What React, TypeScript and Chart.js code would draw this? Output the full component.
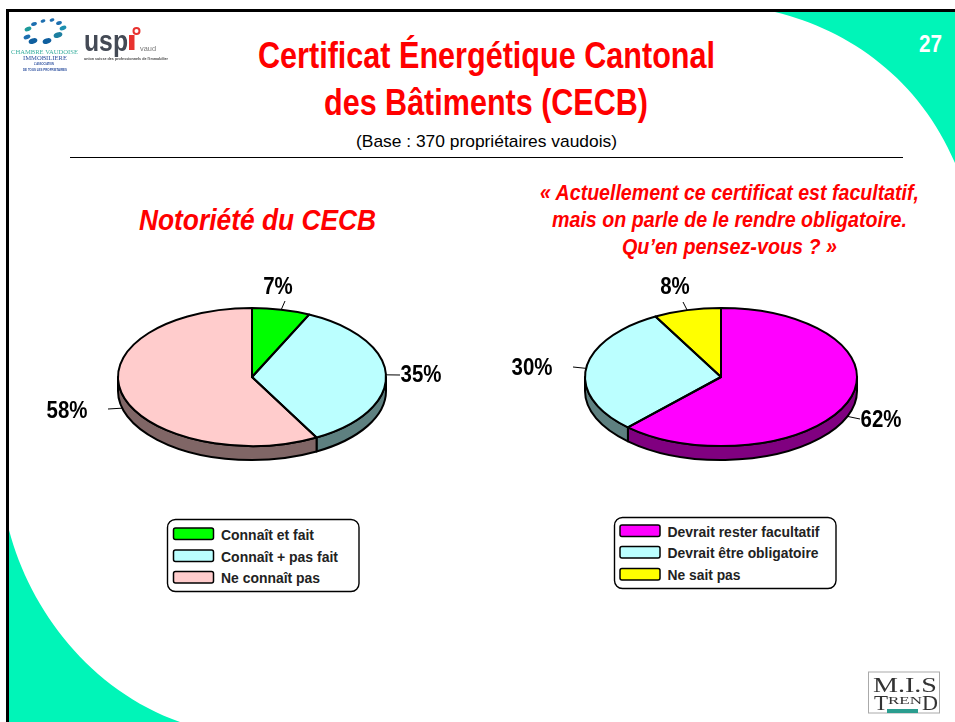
import React, { useEffect, useRef } from "react";
import { Chart, registerables } from "chart.js";

Chart.register(...registerables);

const leftCategories = ["Connaît et fait", "Connaît + pas fait", "Ne connaît pas"];
const leftValues = [7, 35, 58];
const leftColors = ["#00FF00", "#BBFFFF", "#FFCCCC"];
const leftWalls = ["#008000", "#5E8080", "#806666"];

const rightCategories = ["Devrait rester facultatif", "Devrait être obligatoire", "Ne sait pas"];
const rightValues = [62, 30, 8];
const rightColors = ["#FF00FF", "#BBFFFF", "#FFFF00"];
const rightWalls = ["#800080", "#5E8080", "#808000"];

const FONT = '"Liberation Sans", Arial, sans-serif';
const RED = "#FF0000";
const TEAL = "#00F5B8";
const DEPTH = 14;
const SQUASH_HEIGHT = 69;

// label centre and leader tip, relative to the pie's centre
const leftCallouts = [
  { lx: 26, ly: -90, tx: 33, ty: -76 },
  { lx: 169, ly: -2, tx: 148, ty: -2 },
  { lx: -185, ly: 34, tx: -144, ty: 32 },
];
const rightCallouts = [
  { lx: 160, ly: 43, tx: 139, ty: 42 },
  { lx: -189, ly: -9, tx: -148, ty: -10 },
  { lx: -46, ly: -90, tx: -38, ty: -75 },
];

type Callout = { lx: number; ly: number; tx: number; ty: number };

function piePlugin(walls: string[], callouts: Callout[]) {
  return {
    id: "flatPie",
    beforeDatasetsDraw(chart: any) {
      const ctx = chart.ctx;
      const arcs = chart.getDatasetMeta(0).data;
      const { x: cx, y: cy, outerRadius: R } = arcs[0];
      const ry = SQUASH_HEIGHT;
      ctx.save();
      ctx.lineWidth = 2;
      ctx.strokeStyle = "#000";
      ctx.lineJoin = "round";
      arcs.forEach((a: any, i: number) => {
        const s = Math.max(a.startAngle, 0);
        const e = Math.min(a.endAngle, Math.PI);
        if (s >= e) return;
        ctx.beginPath();
        ctx.ellipse(cx, cy, R, ry, 0, s, e);
        ctx.ellipse(cx, cy + DEPTH, R, ry, 0, e, s, true);
        ctx.closePath();
        ctx.fillStyle = walls[i];
        ctx.fill();
        ctx.stroke();
      });
      ctx.restore();
      ctx.save();
      ctx.translate(cx, cy);
      ctx.scale(1, ry / R);
      ctx.translate(-cx, -cy);
    },
    afterDatasetsDraw(chart: any) {
      const ctx = chart.ctx;
      ctx.restore();
      const arcs = chart.getDatasetMeta(0).data;
      const values = chart.data.datasets[0].data;
      const { x: cx, y: cy, outerRadius: R } = arcs[0];
      const ry = SQUASH_HEIGHT;
      ctx.save();
      ctx.lineWidth = 2;
      ctx.strokeStyle = "#000";
      ctx.lineJoin = "round";
      arcs.forEach((a: any) => {
        ctx.beginPath();
        ctx.moveTo(cx, cy);
        ctx.ellipse(cx, cy, R, ry, 0, a.startAngle, a.endAngle);
        ctx.closePath();
        ctx.stroke();
      });
      arcs.forEach((a: any, i: number) => {
        const mid = (a.startAngle + a.endAngle) / 2;
        const px = cx + R * Math.cos(mid);
        const py = cy + ry * Math.sin(mid) + (Math.sin(mid) > 0.1 ? DEPTH : 0);
        const c = callouts[i];
        ctx.beginPath();
        ctx.lineWidth = 1;
        ctx.moveTo(px, py);
        ctx.lineTo(cx + c.tx, cy + c.ty);
        ctx.stroke();
        ctx.save();
        ctx.translate(cx + c.lx, cy + c.ly);
        ctx.scale(0.87, 1);
        ctx.font = `bold 23.5px ${FONT}`;
        ctx.fillStyle = "#000";
        ctx.textAlign = "center";
        ctx.textBaseline = "middle";
        ctx.fillText(`${values[i]}%`, 0, 1);
        ctx.restore();
      });
      ctx.restore();
    },
  };
}

function Pie(props: {
  labels: string[];
  values: number[];
  colors: string[];
  walls: string[];
  callouts: Callout[];
  left: number;
  top: number;
  width: number;
  height: number;
}) {
  const ref = useRef<HTMLCanvasElement>(null);
  useEffect(() => {
    const chart = new Chart(ref.current as HTMLCanvasElement, {
      type: "pie",
      data: {
        labels: props.labels,
        datasets: [{ data: props.values, backgroundColor: props.colors, borderWidth: 0 }],
      },
      options: {
        animation: false,
        responsive: false,
        events: [],
        layout: { padding: 0 },
        plugins: { legend: { display: false }, tooltip: { enabled: false } },
      },
      plugins: [piePlugin(props.walls, props.callouts)],
    } as any);
    return () => chart.destroy();
  }, []);
  return (
    <canvas
      ref={ref}
      width={props.width}
      height={props.height}
      style={{ position: "absolute", left: props.left, top: props.top, width: props.width, height: props.height }}
    />
  );
}

function T(p: {
  x: number;
  y: number;
  w: number;
  size: number;
  fill?: string;
  italic?: boolean;
  weight?: string;
  family?: string;
  children: string;
}) {
  return (
    <text
      x={p.x}
      y={p.y}
      textLength={p.w}
      lengthAdjust="spacingAndGlyphs"
      fontFamily={p.family || FONT}
      fontSize={p.size}
      fontWeight={p.weight || "bold"}
      fontStyle={p.italic ? "italic" : "normal"}
      fill={p.fill || "#000"}
    >
      {p.children}
    </text>
  );
}

function Legend(p: {
  box: number[];
  swatchX: number;
  swatchYs: number[];
  labels: string[];
  colors: string[];
  textX: number;
  widths: number[];
}) {
  const [x, y, w, h] = p.box;
  return (
    <g>
      <rect x={x} y={y} width={w} height={h} rx={8} fill="#fff" stroke="#000" strokeWidth={1.4} />
      {p.labels.map((l, i) => (
        <g key={l}>
          <rect x={p.swatchX} y={p.swatchYs[i]} width={40} height={11.5} rx={2} fill={p.colors[i]} stroke="#000" strokeWidth={1.5} />
          <T x={p.textX} y={p.swatchYs[i] + 11.5} w={p.widths[i]} size={14.5} fill="#222">{l}</T>
        </g>
      ))}
    </g>
  );
}

const ringDots = [
  [43, 21, "#1d6fb0", 2.5], [52, 20, "#1d6fb0", 2.5], [59, 23, "#1d6fb0", 3], [63, 28, "#1d8fb0", 3.5],
  [58, 35, "#1d7fa0", 4.5], [47, 41, "#0f5f9f", 4.5], [33, 41, "#0f5f9f", 4.5], [27, 37, "#1d6fb0", 3.5], [28, 29, "#1d9a9a", 3.5], [34, 24, "#1d6fb0", 3],
] as [number, number, string, number][];

export default function App() {
  useEffect(() => {
    document.body.style.margin = "0";
    document.body.style.background = "#fff";
  }, []);
  return (
    <div style={{ position: "relative", width: 955, height: 722, overflow: "hidden", background: "#fff" }}>
      <svg width={955} height={722} style={{ position: "absolute", left: 0, top: 0 }}>
        <path d="M775 12 C 850 30, 920 80, 955 163 L955 12 Z" fill={TEAL} />
        <path d="M9 530 C 30 610, 90 690, 180 722 L9 722 Z" fill={TEAL} />
        <rect x={6} y={9} width={949} height={3} fill="#000" />
        <rect x={6} y={9} width={3} height={713} fill="#000" />
        <g style={{ filter: "blur(0.6px)" }}>
          {ringDots.map(([x, y, c, r], i) => (
            <ellipse key={i} cx={x} cy={y} rx={r} ry={r * 0.6} fill={c} transform={`rotate(-20 ${x} ${y})`} />
          ))}
          <T x={11} y={54} w={67} size={6} fill="#3aaf9f" weight="normal" family="Liberation Serif">CHAMBRE VAUDOISE</T>
          <T x={23} y={60} w={44} size={6} fill="#2c4f9e" weight="normal" family="Liberation Serif">IMMOBILIERE</T>
          <T x={34} y={65} w={20} size={3.5} fill="#2c4f9e">L'ASSOCIATION</T>
          <T x={23} y={71} w={44} size={3.5} fill="#2c4f9e">DE TOUS LES PROPRIETAIRES</T>
          <T x={84} y={51} w={44} size={29} fill="#444a55">usp</T>
          <rect x={129} y={35} width={5.5} height={15} fill="#e8322f" />
          <circle cx={136.5} cy={31} r={3} fill="none" stroke="#e8322f" strokeWidth={2} />
          <T x={140} y={51} w={16} size={7} fill="#777" weight="normal">vaud</T>
          <T x={84} y={60} w={84} size={3.6} fill="#444">union suisse des professionnels de l'immobilier</T>
        </g>
        <T x={258} y={68} w={457} size={37} fill={RED}>Certificat Énergétique Cantonal</T>
        <T x={324} y={115} w={324} size={37} fill={RED}>des Bâtiments (CECB)</T>
        <T x={356} y={147} w={261} size={17} weight="normal">(Base : 370 propriétaires vaudois)</T>
        <rect x={70} y={157} width={833} height={1} fill="#000" />
        <T x={919} y={52} w={23} size={24} fill="#fff">27</T>
        <T x={139} y={230} w={237} size={29} fill={RED} italic>Notoriété du CECB</T>
        <T x={540} y={200} w={379} size={21.5} fill={RED} italic>« Actuellement ce certificat est facultatif,</T>
        <T x={552} y={227} w={355} size={21.5} fill={RED} italic>mais on parle de le rendre obligatoire.</T>
        <T x={622} y={254} w={215} size={21.5} fill={RED} italic>Qu’en pensez-vous ? »</T>
        <Legend
          box={[167.5, 519.5, 191.5, 72]}
          swatchX={173.5}
          swatchYs={[528, 550, 571.5]}
          labels={leftCategories}
          colors={leftColors}
          textX={221}
          widths={[93, 117, 99]}
        />
        <Legend
          box={[614.5, 517.5, 221.5, 71]}
          swatchX={620}
          swatchYs={[525, 546.5, 568.5]}
          labels={rightCategories}
          colors={rightColors}
          textX={667.5}
          widths={[152, 151, 73]}
        />
        <g style={{ filter: "blur(0.4px)" }}>
          <rect x={868.5} y={672} width={71} height={41} fill="#fff" stroke="#aaa" strokeWidth={1} />
          <T x={873} y={692} w={64} size={20} weight="normal" fill="#333" family="Liberation Serif">M.I.S</T>
          <T x={874} y={710} w={14} size={20} weight="normal" fill="#333" family="Liberation Serif">T</T>
          <T x={888} y={704} w={34} size={11} weight="normal" fill="#333" family="Liberation Serif">REN</T>
          <T x={922} y={710} w={16} size={22} weight="normal" fill="#333" family="Liberation Serif">D</T>
          <rect x={887} y={709} width={31} height={4} fill="#2a9d8f" />
        </g>
      </svg>
      <Pie
        labels={leftCategories}
        values={leftValues}
        colors={leftColors}
        walls={leftWalls}
        callouts={leftCallouts}
        left={22}
        top={243}
        width={460}
        height={268}
      />
      <Pie
        labels={rightCategories}
        values={rightValues}
        colors={rightColors}
        walls={rightWalls}
        callouts={rightCallouts}
        left={486}
        top={241}
        width={470}
        height={272}
      />
    </div>
  );
}
